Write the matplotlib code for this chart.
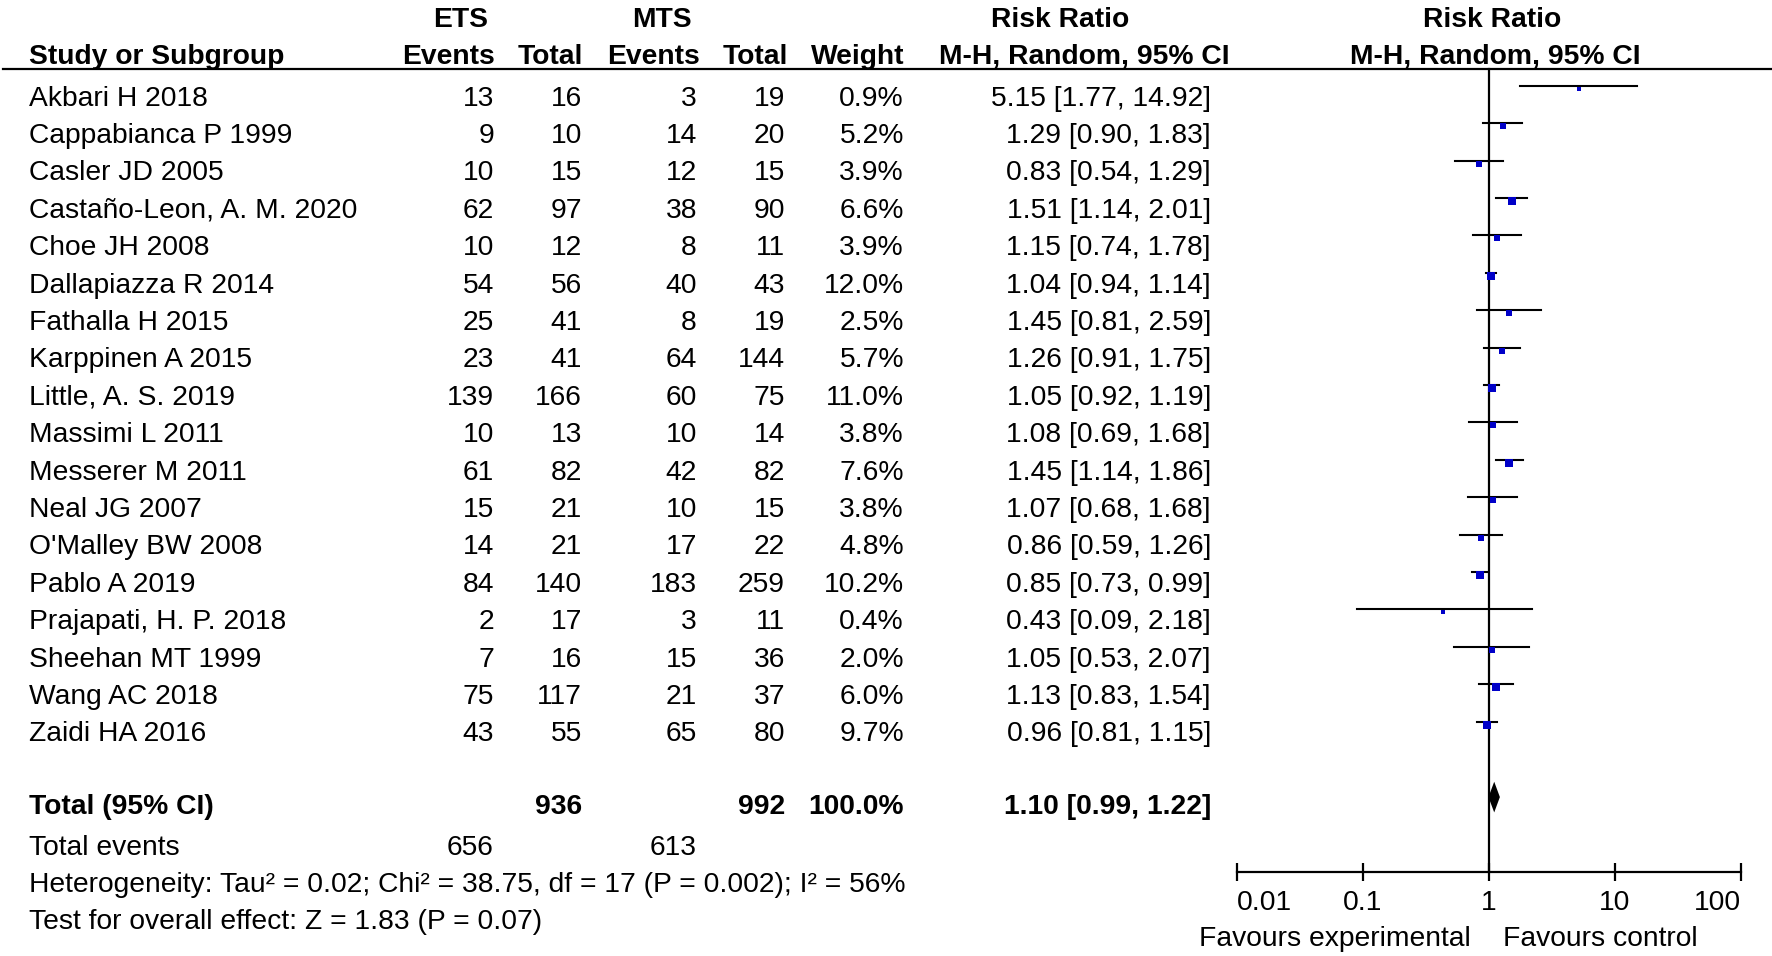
import numpy as np
import matplotlib
matplotlib.use("Agg")
import matplotlib.pyplot as plt

plt.rcParams['font.family'] = ['Liberation Sans', 'DejaVu Sans']

studies = ["Akbari H 2018", "Cappabianca P 1999", "Casler JD 2005",
           "Castaño-Leon, A. M. 2020", "Choe JH 2008", "Dallapiazza R 2014",
           "Fathalla H 2015", "Karppinen A 2015", "Little, A. S. 2019",
           "Massimi L 2011", "Messerer M 2011", "Neal JG 2007",
           "O'Malley BW 2008", "Pablo A 2019", "Prajapati, H. P. 2018",
           "Sheehan MT 1999", "Wang AC 2018", "Zaidi HA 2016"]
ets_events = [13, 9, 10, 62, 10, 54, 25, 23, 139, 10, 61, 15, 14, 84, 2, 7, 75, 43]
ets_total = [16, 10, 15, 97, 12, 56, 41, 41, 166, 13, 82, 21, 21, 140, 17, 16, 117, 55]
mts_events = [3, 14, 12, 38, 8, 40, 8, 64, 60, 10, 42, 10, 17, 183, 3, 15, 21, 65]
mts_total = [19, 20, 15, 90, 11, 43, 19, 144, 75, 14, 82, 15, 22, 259, 11, 36, 37, 80]
weight = [0.9, 5.2, 3.9, 6.6, 3.9, 12.0, 2.5, 5.7, 11.0, 3.8, 7.6, 3.8, 4.8, 10.2, 0.4, 2.0, 6.0, 9.7]
rr = [5.15, 1.29, 0.83, 1.51, 1.15, 1.04, 1.45, 1.26, 1.05, 1.08, 1.45, 1.07, 0.86, 0.85, 0.43, 1.05, 1.13, 0.96]
ci_low = [1.77, 0.90, 0.54, 1.14, 0.74, 0.94, 0.81, 0.91, 0.92, 0.69, 1.14, 0.68, 0.59, 0.73, 0.09, 0.53, 0.83, 0.81]
ci_high = [14.92, 1.83, 1.29, 2.01, 1.78, 1.14, 2.59, 1.75, 1.19, 1.68, 1.86, 1.68, 1.26, 0.99, 2.18, 2.07, 1.54, 1.15]

total_ets, total_mts = 936, 992
events_ets, events_mts = 656, 613
pooled_rr, pooled_low, pooled_high = 1.10, 0.99, 1.22
het_text = "Heterogeneity: Tau² = 0.02; Chi² = 38.75, df = 17 (P = 0.002); I² = 56%"
effect_text = "Test for overall effect: Z = 1.83 (P = 0.07)"
tick_vals = [0.01, 0.1, 1, 10, 100]
tick_labels = ["0.01", "0.1", "1", "10", "100"]

W, H = 1772, 956
FS = 20.3
row_px = 37.4
row0 = 96.2
ytop = -row0 / row_px
ybot = (H - row0) / row_px
base = 0.254  # baseline offset below the row's cap centre

fig = plt.figure(figsize=(W / 100, H / 100), dpi=100)
ax = fig.add_axes([0, 0, 1, 1])
ax.set_xlim(0, W)
ax.set_ylim(ybot, ytop)
ax.axis('off')

# headers
hb = -1.84
ax.text(461, hb, "ETS", ha='center', va='baseline', fontsize=FS, weight='bold')
ax.text(662, hb, "MTS", ha='center', va='baseline', fontsize=FS, weight='bold')
ax.text(1060, hb, "Risk Ratio", ha='center', va='baseline', fontsize=FS, weight='bold')
ax.text(1492, hb, "Risk Ratio", ha='center', va='baseline', fontsize=FS, weight='bold')
h2 = -0.87
ax.text(29, h2, "Study or Subgroup", ha='left', va='baseline', fontsize=FS, weight='bold')
ax.text(495, h2, "Events", ha='right', va='baseline', fontsize=FS, weight='bold')
ax.text(583, h2, "Total", ha='right', va='baseline', fontsize=FS, weight='bold')
ax.text(700, h2, "Events", ha='right', va='baseline', fontsize=FS, weight='bold')
ax.text(788, h2, "Total", ha='right', va='baseline', fontsize=FS, weight='bold')
ax.text(904, h2, "Weight", ha='right', va='baseline', fontsize=FS, weight='bold')
ax.text(1084, h2, "M-H, Random, 95% CI", ha='center', va='baseline', fontsize=FS, weight='bold')
ax.text(1495, h2, "M-H, Random, 95% CI", ha='center', va='baseline', fontsize=FS, weight='bold')
ax.plot([3, W], [-0.73, -0.73], color='black', lw=1.6)

# study rows
for i, s in enumerate(studies):
    y = i + base
    ax.text(29, y, s, ha='left', va='baseline', fontsize=FS)
    ax.text(494, y, str(ets_events[i]), ha='right', va='baseline', fontsize=FS)
    ax.text(582, y, str(ets_total[i]), ha='right', va='baseline', fontsize=FS)
    ax.text(697, y, str(mts_events[i]), ha='right', va='baseline', fontsize=FS)
    ax.text(785, y, str(mts_total[i]), ha='right', va='baseline', fontsize=FS)
    ax.text(904, y, f"{weight[i]:.1f}%", ha='right', va='baseline', fontsize=FS)
    ax.text(1211, y, f"{rr[i]:.2f} [{ci_low[i]:.2f}, {ci_high[i]:.2f}]",
            ha='right', va='baseline', fontsize=FS)

n = len(studies)
ty = 18.94 + base
ax.text(29, ty, "Total (95% CI)", ha='left', va='baseline', fontsize=FS, weight='bold')
ax.text(582, ty, str(total_ets), ha='right', va='baseline', fontsize=FS, weight='bold')
ax.text(785, ty, str(total_mts), ha='right', va='baseline', fontsize=FS, weight='bold')
ax.text(904, ty, "100.0%", ha='right', va='baseline', fontsize=FS, weight='bold')
ax.text(1211, ty, f"{pooled_rr:.2f} [{pooled_low:.2f}, {pooled_high:.2f}]",
        ha='right', va='baseline', fontsize=FS, weight='bold')
ax.text(29, 20.03 + base, "Total events", ha='left', va='baseline', fontsize=FS)
ax.text(494, 20.03 + base, str(events_ets), ha='right', va='baseline', fontsize=FS)
ax.text(697, 20.03 + base, str(events_mts), ha='right', va='baseline', fontsize=FS)
ax.text(29, 21.02 + base, het_text, ha='left', va='baseline', fontsize=FS)
ax.text(29, 22.02 + base, effect_text, ha='left', va='baseline', fontsize=FS)

# forest plot
x0, x1 = 1237, 1741
ax2 = fig.add_axes([x0 / W, 0, (x1 - x0) / W, 1])
ax2.set_xscale('log')
ax2.set_xlim(0.01, 100)
ax2.set_ylim(ybot, ytop)
ax2.patch.set_visible(False)
for sp in ['top', 'left', 'right']:
    ax2.spines[sp].set_visible(False)
axis_y = 20.75
ax2.spines['bottom'].set_position(('data', axis_y))
ax2.spines['bottom'].set_linewidth(1.6)
ax2.spines['bottom'].set_bounds(0.01, 100)
ax2.set_yticks([])
ax2.set_xticks(tick_vals)
ax2.set_xticklabels(tick_labels)
ax2.xaxis.set_minor_locator(matplotlib.ticker.NullLocator())
ax2.tick_params(axis='x', direction='inout', length=13, width=1.6, pad=6, labelsize=FS)
labels = ax2.get_xticklabels()
labels[0].set_ha('left')
labels[-1].set_ha('right')

ax2.plot([1, 1], [-0.73, axis_y], color='black', lw=1.6)

for i in range(n):
    ax2.plot([ci_low[i], ci_high[i]], [i - 0.28, i - 0.28], color='black', lw=1.5)
    size_px = 1.75 * np.sqrt(weight[i]) + 2.8
    ax2.plot(rr[i], i - 0.2, marker='s', ms=size_px * 0.72, color='#0000c8',
             markeredgewidth=0, linestyle='none')

dy = 18.94 - 0.2
ax2.fill([pooled_low, pooled_rr, pooled_high, pooled_rr],
         [dy, dy - 0.41, dy, dy + 0.41], color='black', lw=0)

fy = 22.48 + base
ax2.text(0.72, fy, "Favours experimental", ha='right', va='baseline', fontsize=FS)
ax2.text(1.28, fy, "Favours control", ha='left', va='baseline', fontsize=FS)

fig.savefig("out.png", dpi=100)
